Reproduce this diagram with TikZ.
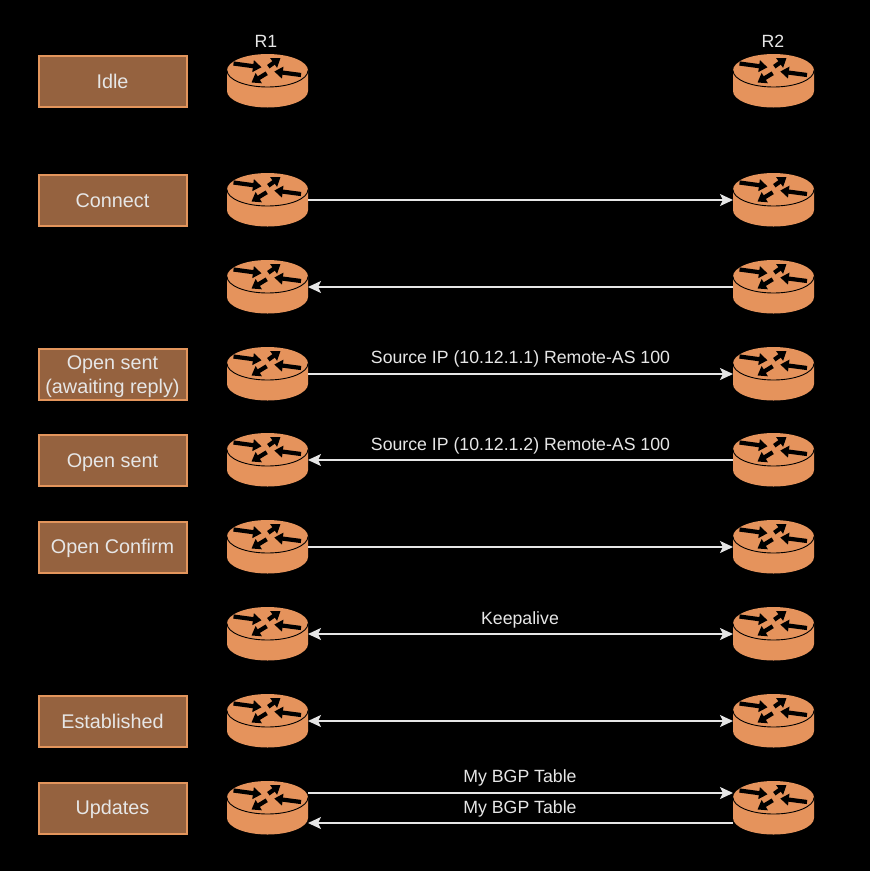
\documentclass[tikz,border=0pt]{standalone}
\usepackage{fontspec}
\setmainfont{Liberation Sans}
\usetikzlibrary{arrows.meta,calc}
\definecolor{rtr}{HTML}{E5935C}
\definecolor{boxfill}{HTML}{95623F}
\definecolor{boxline}{HTML}{E3955C}
\definecolor{txt}{HTML}{E6E6E6}
\newcommand{\onestrut}{\rule[-4pt]{0pt}{22pt}}
\tikzset{
  statebox/.style={draw=boxline,line width=2pt,fill=boxfill,text=txt,minimum width=148pt,minimum height=51pt,inner sep=0pt,align=center,font=\fontsize{19.8}{24}\selectfont},
  routerspot/.style={minimum width=81pt,minimum height=54pt,inner sep=0pt,outer sep=0pt},
  lbl/.style={text=txt,inner sep=0pt,font=\fontsize{17.7}{20}\selectfont},
  link/.style={draw=txt,line width=1.7pt,-{Stealth[length=13pt,width=12pt,inset=3pt]},shorten >=0pt},
  biglink/.style={draw=txt,line width=1.7pt,{Stealth[length=13pt,width=12pt,inset=3pt]}-{Stealth[length=13pt,width=12pt,inset=3pt]}},
  rarrow/.style={draw=black,line width=4.2pt,-{Triangle[length=8.5pt,width=11.5pt]}},
  router/.pic={
    \fill[rtr] (-40.5,-10.5) arc[start angle=180,end angle=360,x radius=40.5,y radius=16.5]
      -- (40.5,10) arc[start angle=0,end angle=180,x radius=40.5,y radius=16.5] -- cycle;
    \draw[black,line width=0.9pt] (-40.5,-10.5) arc[start angle=180,end angle=0,x radius=40.5,y radius=16.5];
    \draw[rarrow] (-34,-17.5) -- (-6,-13.7);
    \draw[rarrow] (0.8,-14.3) -- (13,-23);
    \draw[rarrow] (33.5,-6) -- (6.8,-9.5);
    \draw[rarrow] (-0.8,-7.7) -- (-16,1.5);
  }
}
\begin{document}
\begin{tikzpicture}[x=1pt,y=-1pt]
\path[use as bounding box,fill=black] (0,0) rectangle (870,871);
% routers
\foreach \n/\yy in {0/81,1/200,2/287,3/374,4/460,5/547,6/634,7/721,8/808}{
  \node[routerspot] (l\n) at (267.5,\yy) {};
  \pic at (l\n.center) {router};
  \node[routerspot] (r\n) at (773.5,\yy) {};
  \pic at (r\n.center) {router};
}
% state boxes
\node[statebox] (sIdle) at (112.5,81) {\onestrut Idle};
\node[statebox] (sConnect) at (112.5,200) {\onestrut Connect};
\node[statebox] (sOpenA) at (112.5,374) {\rule{0pt}{20pt}Open sent\\\rule[-4pt]{0pt}{1pt}(awaiting reply)};
\node[statebox] (sOpen) at (112.5,460.5) {\onestrut Open sent};
\node[statebox] (sConfirm) at (112.5,547) {\onestrut Open Confirm};
\node[statebox] (sEst) at (112.5,721) {\onestrut Established};
\node[statebox] (sUpd) at (112.5,808) {\onestrut Updates};
% titles
\node[lbl] (tR1) at (266,41) {R1};
\node[lbl] (tR2) at (773,41) {R2};
% connectors
\draw[link] (l1.east) -- (r1.west);
\draw[link] (r2.west) -- (l2.east);
\draw[link] (l3.east) -- (r3.west);
\draw[link] (r4.west) -- (l4.east);
\draw[link] (l5.east) -- (r5.west);
\draw[biglink] (l6.east) -- (r6.west);
\draw[biglink] (l7.east) -- (r7.west);
\draw[link] ($(l8.east)+(0,-15)$) -- ($(r8.west)+(0,-15)$);
\draw[link] ($(r8.west)+(0,15)$) -- ($(l8.east)+(0,15)$);
% labels
\node[lbl] (m1) at (520.5,358.5) {Source IP (10.12.1.1) Remote-AS 100};
\node[lbl] (m2) at (520.5,445.5) {Source IP (10.12.1.2) Remote-AS 100};
\node[lbl] (m3) at (520,619.5) {Keepalive};
\node[lbl] (m4) at (520,777.5) {My BGP Table};
\node[lbl] (m5) at (520,808.5) {My BGP Table};
\end{tikzpicture}
\end{document}
